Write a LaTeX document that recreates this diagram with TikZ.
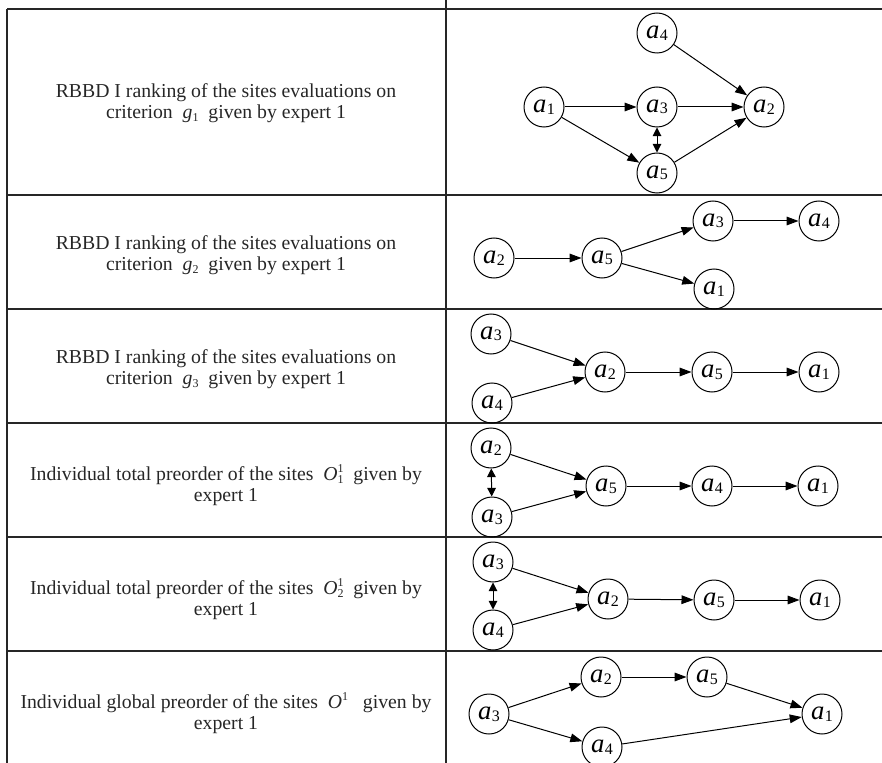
\documentclass[tikz,border=0pt]{standalone}
\usepackage{fontspec}
\setmainfont{Liberation Serif}
\usetikzlibrary{arrows.meta}
% node label: italic a with a small index
\newcommand\site[1]{\fontsize{20}{20}\selectfont\textit{a}\kern0.2pt\raisebox{-1.2pt}{\fontsize{12}{12}\selectfont #1}}
\newcommand\subidx[1]{\raisebox{-2.5pt}{\fontsize{9}{9}\selectfont #1}}
\newcommand\supidx[1]{\raisebox{6pt}{\fontsize{9}{9}\selectfont #1}}
\begin{document}
\begin{tikzpicture}[x=0.75pt,y=-0.75pt,
  site/.style={circle,draw,line width=0.75pt,minimum size=30pt,inner sep=0pt},
  rel/.style={line width=0.75pt,-{Triangle[length=9pt,width=6.5pt]}},
  both/.style={line width=0.75pt,{Triangle[length=6.5pt,width=6.5pt]}-{Triangle[length=6.5pt,width=6.5pt]}},
  rule/.style={line width=1.4pt,color=black!85},
  vrule/.style={line width=1pt,color=black!85},
  caption/.style={align=center,font=\fontsize{14.8}{15.5}\selectfont,text=black!85}]
\useasboundingbox (0,0) rectangle (882,763);

% table frame
\draw[line width=1pt,color=black!85] (7,9) -- (882,9);
\draw[vrule] (7,9) -- (7,763);
\draw[vrule] (446,0) -- (446,763);
\foreach \y in {195,309,423,537,651}
  \draw[rule] (7,\y) -- (882,\y);

% captions of the left column
\node[caption] (t1) at (226,103) {RBBD I ranking of the sites evaluations on\\criterion\enspace\textit{g}\subidx{1}\enspace given by expert 1};
\node[caption] (t2) at (226,255) {RBBD I ranking of the sites evaluations on\\criterion\enspace\textit{g}\subidx{2}\enspace given by expert 1};
\node[caption] (t3) at (226,369) {RBBD I ranking of the sites evaluations on\\criterion\enspace\textit{g}\subidx{3}\enspace given by expert 1};
\node[caption] (t4) at (226,485) {Individual total preorder of the sites\enspace\textit{O}\rlap{\supidx{1}}\subidx{1}\enspace given by\\expert 1};
\node[caption] (t5) at (226,599) {Individual total preorder of the sites\enspace\textit{O}\rlap{\supidx{1}}\subidx{2}\enspace given by\\expert 1};
\node[caption] (t6) at (226,713) {Individual global preorder of the sites\enspace\textit{O}\supidx{1}\enspace\ given by\\expert 1};

% criterion g1
\node[site] (p1a4) at (657,33) {\site{4}};
\node[site] (p1a1) at (544,107) {\site{1}};
\node[site] (p1a3) at (657,107) {\site{3}};
\node[site] (p1a2) at (764,107) {\site{2}};
\node[site] (p1a5) at (657,173) {\site{5}};
\draw[rel] (p1a1) -- (p1a3);
\draw[rel] (p1a3) -- (p1a2);
\draw[rel] (p1a4) -- (p1a2);
\draw[rel] (p1a5) -- (p1a2);
\draw[rel] (p1a1) -- (p1a5);
\draw[both] (p1a3) -- (p1a5);

% criterion g2
\node[site] (p2a2) at (494,258) {\site{2}};
\node[site] (p2a5) at (602,258) {\site{5}};
\node[site] (p2a3) at (713,221) {\site{3}};
\node[site] (p2a4) at (819,221) {\site{4}};
\node[site] (p2a1) at (714,289) {\site{1}};
\draw[rel] (p2a2) -- (p2a5);
\draw[rel] (p2a5) -- (p2a3);
\draw[rel] (p2a5) -- (p2a1);
\draw[rel] (p2a3) -- (p2a4);

% criterion g3
\node[site] (p3a3) at (491,334) {\site{3}};
\node[site] (p3a4) at (492,403) {\site{4}};
\node[site] (p3a2) at (605,372) {\site{2}};
\node[site] (p3a5) at (712,372) {\site{5}};
\node[site] (p3a1) at (819,372) {\site{1}};
\draw[rel] (p3a3) -- (p3a2);
\draw[rel] (p3a4) -- (p3a2);
\draw[rel] (p3a2) -- (p3a5);
\draw[rel] (p3a5) -- (p3a1);

% total preorder O_1
\node[site] (p4a2) at (491,448) {\site{2}};
\node[site] (p4a3) at (492,517) {\site{3}};
\node[site] (p4a5) at (606,486) {\site{5}};
\node[site] (p4a4) at (712,486) {\site{4}};
\node[site] (p4a1) at (818,486) {\site{1}};
\draw[rel] (p4a2) -- (p4a5);
\draw[rel] (p4a3) -- (p4a5);
\draw[both] (p4a2) -- (p4a3);
\draw[rel] (p4a5) -- (p4a4);
\draw[rel] (p4a4) -- (p4a1);

% total preorder O_2
\node[site] (p5a3) at (493,562) {\site{3}};
\node[site] (p5a4) at (493,630) {\site{4}};
\node[site] (p5a2) at (608,599) {\site{2}};
\node[site] (p5a5) at (714,600) {\site{5}};
\node[site] (p5a1) at (820,600) {\site{1}};
\draw[rel] (p5a3) -- (p5a2);
\draw[rel] (p5a4) -- (p5a2);
\draw[both] (p5a3) -- (p5a4);
\draw[rel] (p5a2) -- (p5a5);
\draw[rel] (p5a5) -- (p5a1);

% global preorder
\node[site] (p6a3) at (489,714) {\site{3}};
\node[site] (p6a2) at (601,677) {\site{2}};
\node[site] (p6a5) at (707,677) {\site{5}};
\node[site] (p6a4) at (602,747) {\site{4}};
\node[site] (p6a1) at (822,714) {\site{1}};
\draw[rel] (p6a3) -- (p6a2);
\draw[rel] (p6a3) -- (p6a4);
\draw[rel] (p6a2) -- (p6a5);
\draw[rel] (p6a5) -- (p6a1);
\draw[rel] (p6a4) -- (p6a1);
\end{tikzpicture}
\end{document}
